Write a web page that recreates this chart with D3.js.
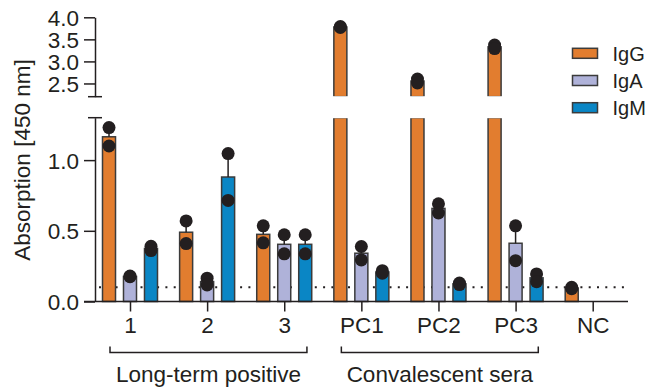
<!DOCTYPE html>
<html><head><meta charset="utf-8">
<script src="https://cdn.jsdelivr.net/npm/d3@7"></script>
<style>body{margin:0;background:#fff}svg{display:block}text{font-family:"Liberation Sans",Arial,sans-serif;fill:#231f20}</style>
</head><body><svg id="c" width="646" height="387"></svg>
<script>
const categories = ["1","2","3","PC1","PC2","PC3","NC"];
const series = ["IgG","IgA","IgM"];
const colors = ["#E27D2F","#AFB2D9","#0A86C5"];
// replicate points per category, per series (null = not measured)
const igG = [[1.23,1.10],[0.57,0.41],[0.535,0.415],[3.79,3.77],[2.60,2.51],[3.37,3.29],[0.10,0.09]];
const igA = [[0.18,0.175],[0.165,0.117],[0.472,0.337],[0.389,0.294],[0.691,0.626],[0.535,0.289],null];
const igM = [[0.39,0.36],[1.046,0.715],[0.472,0.337],[0.218,0.200],[0.13,0.12],[0.195,0.14],null];
const lowerTicks = [0.0,0.5,1.0];
const upperTicks = [2.5,3.0,3.5,4.0];
const cutoff = 0.1;
const groups = [{label:"Long-term positive", from:"1", to:"3"},{label:"Convalescent sera", from:"PC1", to:"PC3"}];
const yLabel = "Absorption [450 nm]";

const svg = d3.select("#c");
const ink = "#231f20";
const axisX = 95;
const yLow = d3.scaleLinear().domain([0,1.3]).range([301.5,117.7]);
const yUp = d3.scaleLinear().domain([2.2,4.0]).range([96.7,17.3]);
const x = d3.scalePoint().domain(categories).range([130,592.7]);
const xs = d3.scaleBand().domain(series).range([-27.5,27.5]).paddingInner(0.38);
const color = d3.scaleOrdinal().domain(series).range(colors);
const data = [igG, igA, igM];

// dotted cutoff line
svg.append("line").attr("x1",axisX+4).attr("x2",628).attr("y1",yLow(cutoff)).attr("y2",yLow(cutoff))
  .attr("stroke",ink).attr("stroke-width",2).attr("stroke-dasharray","2,6.3");

const bars = [];
series.forEach((s,si)=>{
  categories.forEach((c,ci)=>{
    const pts = data[si][ci];
    if(!pts) return;
    const mean = d3.mean(pts);
    const sem = d3.deviation(pts)/Math.sqrt(pts.length);
    bars.push({s,c,pts,mean,sem});
  });
});

const bw = xs.bandwidth();
bars.forEach(b=>{
  const x0 = x(b.c)+xs(b.s);
  const g = svg.append("g");
  if(b.mean > 1.3){
    g.append("rect").attr("x",x0).attr("width",bw).attr("y",yLow(1.3)).attr("height",yLow(0)-yLow(1.3))
      .attr("fill",color(b.s)).attr("stroke","#3b3b3b").attr("stroke-width",1.5);
    g.append("rect").attr("x",x0).attr("width",bw).attr("y",yUp(b.mean)).attr("height",yUp(2.2)-yUp(b.mean))
      .attr("fill",color(b.s)).attr("stroke","#3b3b3b").attr("stroke-width",1.5);
    g.append("rect").attr("x",x0-2).attr("width",bw+4).attr("y",yUp(2.2)-0.5).attr("height",yLow(1.3)-yUp(2.2)+1).attr("fill","#fff");
  } else {
    g.append("rect").attr("x",x0).attr("width",bw).attr("y",yLow(b.mean)).attr("height",yLow(0)-yLow(b.mean))
      .attr("fill",color(b.s)).attr("stroke","#3b3b3b").attr("stroke-width",1.5);
  }
  const yy = v => v>1.3 ? yUp(v) : yLow(v);
  const cx = x0+bw/2;
  g.append("line").attr("x1",cx).attr("x2",cx).attr("y1",yy(b.mean)).attr("y2",yy(b.mean+b.sem)).attr("stroke",ink).attr("stroke-width",1.5);
  g.append("line").attr("x1",cx-4).attr("x2",cx+4).attr("y1",yy(b.mean+b.sem)).attr("y2",yy(b.mean+b.sem)).attr("stroke",ink).attr("stroke-width",1.5);
  g.selectAll("circle").data(b.pts).join("circle").attr("cx",cx).attr("cy",d=>yy(d)).attr("r",6.5).attr("fill",ink);
});

// y axes
const fs = 22.5;
const la = svg.append("g").attr("transform",`translate(${axisX},0)`)
  .call(d3.axisLeft(yLow).tickValues(lowerTicks).tickFormat(d3.format(".1f")).tickSize(11).tickSizeOuter(0));
const ua = svg.append("g").attr("transform",`translate(${axisX},0)`)
  .call(d3.axisLeft(yUp).tickValues(upperTicks).tickFormat(d3.format(".1f")).tickSize(11).tickSizeOuter(0));
[la,ua].forEach(a=>{
  a.select(".domain").attr("stroke",ink).attr("stroke-width",1.5);
  a.selectAll(".tick line").attr("stroke",ink).attr("stroke-width",1.5);
  a.selectAll(".tick text").attr("font-size",fs).attr("font-family","Liberation Sans, Arial, sans-serif").attr("fill",ink).attr("x",-16).attr("dy","0.36em");
});
// break caps
[yUp(2.2), yLow(1.3)].forEach(v=>{
  svg.append("line").attr("x1",axisX-7).attr("x2",axisX+7).attr("y1",v).attr("y2",v).attr("stroke",ink).attr("stroke-width",1.5);
});

// x axis
svg.append("line").attr("x1",84).attr("x2",628).attr("y1",yLow(0)).attr("y2",yLow(0)).attr("stroke",ink).attr("stroke-width",1.5);
const xa = svg.append("g").attr("transform",`translate(0,${yLow(0)})`)
  .call(d3.axisBottom(x).tickSize(10).tickSizeOuter(0));
xa.select(".domain").remove();
xa.selectAll(".tick line").attr("stroke",ink).attr("stroke-width",1.5);
xa.selectAll(".tick text").attr("font-size",fs).attr("font-family","Liberation Sans, Arial, sans-serif").attr("fill",ink).attr("y",16);

// group brackets
groups.forEach(gr=>{
  const x1 = x(gr.from)-20, x2 = x(gr.to)+22.7;
  svg.append("path").attr("d",`M${x1},346.5V352.5H${x2}V346.5`).attr("fill","none").attr("stroke",ink).attr("stroke-width",1.5);
  svg.append("text").attr("x",(x1+x2)/2).attr("y",382).attr("text-anchor","middle").attr("font-size",fs).text(gr.label);
});

// y label
svg.append("text").attr("transform","translate(30,160) rotate(-90)").attr("text-anchor","middle").attr("font-size",fs).text(yLabel);

// legend
series.forEach((s,i)=>{
  const ly = 53.3 + i*27.2;
  svg.append("rect").attr("x",572.5).attr("y",ly-5).attr("width",25).attr("height",10).attr("fill",colors[i]).attr("stroke","#3b3b3b").attr("stroke-width",1.5);
  svg.append("text").attr("x",612.5).attr("y",ly).attr("dy","0.36em").attr("font-size",20).text(s);
});
</script></body></html>
